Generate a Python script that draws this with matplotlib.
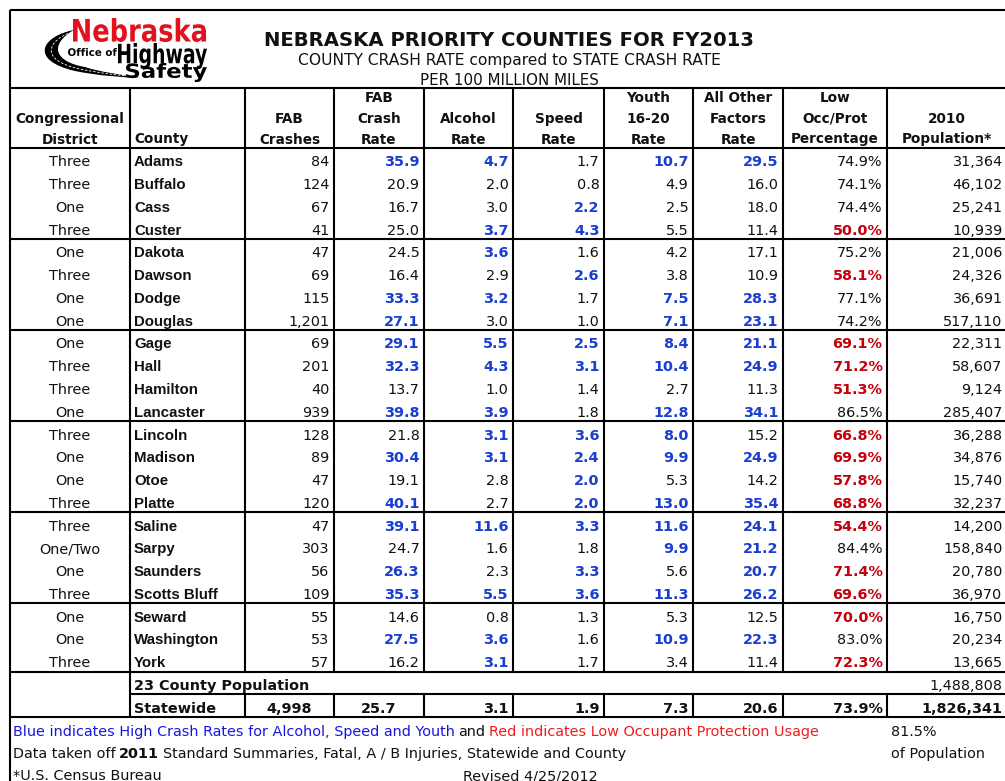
import matplotlib
matplotlib.use('Agg')
import matplotlib.pyplot as plt
from matplotlib.path import Path
from matplotlib.patches import PathPatch
from matplotlib.textpath import TextPath
from matplotlib.font_manager import FontProperties
from matplotlib.transforms import Affine2D

# ---- data ----
districts = ['Three', 'Three', 'One', 'Three', 'One', 'Three', 'One', 'One',
             'One', 'Three', 'Three', 'One', 'Three', 'One', 'One', 'Three',
             'Three', 'One/Two', 'One', 'Three', 'One', 'One', 'Three']
counties = ['Adams', 'Buffalo', 'Cass', 'Custer', 'Dakota', 'Dawson', 'Dodge', 'Douglas',
            'Gage', 'Hall', 'Hamilton', 'Lancaster', 'Lincoln', 'Madison', 'Otoe', 'Platte',
            'Saline', 'Sarpy', 'Saunders', 'Scotts Bluff', 'Seward', 'Washington', 'York']
fab_crashes = [84, 124, 67, 41, 47, 69, 115, 1201, 69, 201, 40, 939,
               128, 89, 47, 120, 47, 303, 56, 109, 55, 53, 57]
fab_rate = [35.9, 20.9, 16.7, 25.0, 24.5, 16.4, 33.3, 27.1, 29.1, 32.3, 13.7, 39.8,
            21.8, 30.4, 19.1, 40.1, 39.1, 24.7, 26.3, 35.3, 14.6, 27.5, 16.2]
alcohol_rate = [4.7, 2.0, 3.0, 3.7, 3.6, 2.9, 3.2, 3.0, 5.5, 4.3, 1.0, 3.9,
                3.1, 3.1, 2.8, 2.7, 11.6, 1.6, 2.3, 5.5, 0.8, 3.6, 3.1]
speed_rate = [1.7, 0.8, 2.2, 4.3, 1.6, 2.6, 1.7, 1.0, 2.5, 3.1, 1.4, 1.8,
              3.6, 2.4, 2.0, 2.0, 3.3, 1.8, 3.3, 3.6, 1.3, 1.6, 1.7]
youth_rate = [10.7, 4.9, 2.5, 5.5, 4.2, 3.8, 7.5, 7.1, 8.4, 10.4, 2.7, 12.8,
              8.0, 9.9, 5.3, 13.0, 11.6, 9.9, 5.6, 11.3, 5.3, 10.9, 3.4]
other_rate = [29.5, 16.0, 18.0, 11.4, 17.1, 10.9, 28.3, 23.1, 21.1, 24.9, 11.3, 34.1,
              15.2, 24.9, 14.2, 35.4, 24.1, 21.2, 20.7, 26.2, 12.5, 22.3, 11.4]
low_occ_pct = [74.9, 74.1, 74.4, 50.0, 75.2, 58.1, 77.1, 74.2, 69.1, 71.2, 51.3, 86.5,
               66.8, 69.9, 57.8, 68.8, 54.4, 84.4, 71.4, 69.6, 70.0, 83.0, 72.3]
population = [31364, 46102, 25241, 10939, 21006, 24326, 36691, 517110, 22311, 58607, 9124, 285407,
              36288, 34876, 15740, 32237, 14200, 158840, 20780, 36970, 16750, 20234, 13665]

# highlighted cells (blue = high crash rate, red = low occupant protection)
fab_rate_blue = ['Adams', 'Dodge', 'Douglas', 'Gage', 'Hall', 'Lancaster', 'Madison', 'Platte',
                 'Saline', 'Saunders', 'Scotts Bluff', 'Washington']
alcohol_blue = ['Adams', 'Custer', 'Dakota', 'Dodge', 'Gage', 'Hall', 'Lancaster', 'Lincoln',
                'Madison', 'Saline', 'Scotts Bluff', 'Washington', 'York']
speed_blue = ['Cass', 'Custer', 'Dawson', 'Gage', 'Hall', 'Lincoln', 'Madison', 'Otoe',
              'Platte', 'Saline', 'Saunders', 'Scotts Bluff']
youth_blue = ['Adams', 'Dodge', 'Douglas', 'Gage', 'Hall', 'Lancaster', 'Lincoln', 'Madison',
              'Platte', 'Saline', 'Sarpy', 'Scotts Bluff', 'Washington']
other_blue = ['Adams', 'Dodge', 'Douglas', 'Gage', 'Hall', 'Lancaster', 'Madison', 'Platte',
              'Saline', 'Sarpy', 'Saunders', 'Scotts Bluff', 'Washington']
low_occ_red = ['Custer', 'Dawson', 'Gage', 'Hall', 'Hamilton', 'Lincoln', 'Madison', 'Otoe',
               'Platte', 'Saline', 'Saunders', 'Scotts Bluff', 'Seward', 'York']

county_total_pop = 1488808
statewide = {'crashes': 4998, 'fab': 25.7, 'alcohol': 3.1, 'speed': 1.9,
             'youth': 7.3, 'other': 20.6, 'pct': 73.9, 'pop': 1826341}
share_of_pop = '81.5%'

headers = [['', 'Congressional', 'District'], ['', '', 'County'], ['', 'FAB', 'Crashes'],
           ['FAB', 'Crash', 'Rate'], ['', 'Alcohol', 'Rate'], ['', 'Speed', 'Rate'],
           ['Youth', '16-20', 'Rate'], ['All Other', 'Factors', 'Rate'],
           ['Low', 'Occ/Prot', 'Percentage'], ['', '2010', 'Population*']]

# ---- layout ----
BLUE = '#1a3fd0'
RED = '#c4000c'
INK = '#111111'
LW = 1.5
col_edges = [10, 130, 245, 334, 424, 513, 604, 693, 783, 887, 1007]
header_top, header_bot = 88, 148
row_h = 22.77
group_size = 4
data_fs = 10.4

fig = plt.figure(figsize=(10.05, 7.81), dpi=100)
ax = fig.add_axes([0, 0, 1, 1])
ax.set_xlim(0, 1005)
ax.set_ylim(781, 0)
ax.axis('off')


def draw_logo_word(s, x0, x1, top, bottom, color):
    tp = TextPath((0, 0), s, prop=FontProperties(family='DejaVu Sans', weight='bold'), size=20)
    ext = tp.get_extents()
    sx = (x1 - x0) / ext.width
    sy = (bottom - top) / ext.height
    tr = Affine2D().translate(-ext.x0, -ext.y1).scale(sx, -sy).translate(x0, top)
    ax.add_patch(PathPatch(tp, transform=tr + ax.transData, color=color, lw=0))


# logo swoosh
verts = [(74, 30), (42, 36), (28, 60), (75, 71), (100, 76), (120, 77), (140, 78),
         (118, 74), (100, 72), (85, 67), (55, 62), (48, 45), (74, 30)]
codes = [Path.MOVETO] + [Path.CURVE4] * 12
ax.add_patch(PathPatch(Path(verts, codes), color='black', lw=0))
mid = Path([(72, 32), (48, 40), (38, 60), (80, 69), (100, 73), (115, 75), (130, 76)],
           [Path.MOVETO] + [Path.CURVE4] * 6)
ax.add_patch(PathPatch(mid, fill=False, edgecolor='white', lw=0.6, ls=(0, (3, 2))))
draw_logo_word('Nebraska', 73, 206, 18, 42, '#e3101e')
draw_logo_word('Office of', 68, 117, 48, 56, 'black')
draw_logo_word('Highway', 118, 207, 43, 69, 'black')
draw_logo_word('Safety', 126, 207, 63, 82, 'black')

# titles
ax.text(509, 45.5, 'NEBRASKA PRIORITY COUNTIES FOR FY2013', ha='center', va='baseline',
        fontsize=14.1, fontweight='bold', color=INK)
ax.text(509, 65, 'COUNTY CRASH RATE compared to STATE CRASH RATE', ha='center',
        va='baseline', fontsize=11.2, color=INK)
ax.text(509, 85, 'PER 100 MILLION MILES', ha='center', va='baseline', fontsize=10.9, color=INK)

# header
header_base = [102, 123, 143.5]
for c, lines in enumerate(headers):
    for k, s in enumerate(lines):
        if not s:
            continue
        if c == 1:
            ax.text(col_edges[1] + 4, header_base[k], s, ha='left', va='baseline',
                    fontsize=9.8, fontweight='bold', color=INK)
        else:
            ax.text((col_edges[c] + col_edges[c + 1]) / 2, header_base[k], s, ha='center',
                    va='baseline', fontsize=9.8, fontweight='bold', color=INK)


def cell(col, y, s, color=INK, bold=False, ha='right'):
    if ha == 'right':
        x = col_edges[col + 1] - 4.5
    elif ha == 'center':
        x = (col_edges[col] + col_edges[col + 1]) / 2
    else:
        x = col_edges[col] + 4
    ax.text(x, y, s, ha=ha, va='baseline', fontsize=data_fs, color=color,
            fontweight='bold' if bold else 'normal')


rate_cols = [(3, fab_rate, fab_rate_blue), (4, alcohol_rate, alcohol_blue),
             (5, speed_rate, speed_blue), (6, youth_rate, youth_blue),
             (7, other_rate, other_blue)]

n = len(counties)
for i, name in enumerate(counties):
    y = header_bot + i * row_h + 18.3
    ax.text(70, y, districts[i], ha='center', va='baseline', fontsize=data_fs, color=INK)
    ax.text(col_edges[1] + 4, y, name, ha='left', va='baseline', fontsize=10.8,
            fontweight='bold', family='Liberation Sans', color=INK)
    cell(2, y, f'{fab_crashes[i]:,}')
    for col, vals, blues in rate_cols:
        hi = name in blues
        cell(col, y, f'{vals[i]:.1f}', BLUE if hi else INK, hi)
    red = name in low_occ_red
    cell(8, y, f'{low_occ_pct[i]:.1f}%', RED if red else INK, red)
    cell(9, y, f'{population[i]:,}')

# 23 county + statewide rows
y_tot = header_bot + n * row_h + 18.3
ax.text(col_edges[1] + 4, y_tot, '23 County Population', ha='left', va='baseline',
        fontsize=data_fs, fontweight='bold', color=INK)
cell(9, y_tot, f'{county_total_pop:,}')
y_st = header_bot + (n + 1) * row_h + 18.3
ax.text(col_edges[1] + 4, y_st, 'Statewide', ha='left', va='baseline',
        fontsize=data_fs, fontweight='bold', color=INK)
cell(2, y_st, f"{statewide['crashes']:,}", bold=True, ha='center')
cell(3, y_st, f"{statewide['fab']:.1f}", bold=True, ha='center')
for col, key in [(4, 'alcohol'), (5, 'speed'), (6, 'youth'), (7, 'other')]:
    cell(col, y_st, f'{statewide[key]:.1f}', bold=True)
cell(8, y_st, f"{statewide['pct']:.1f}%", bold=True)
cell(9, y_st, f"{statewide['pop']:,}", bold=True)

# grid lines
body_bot = header_bot + n * row_h
tot_mid = body_bot + row_h
st_bot = body_bot + 2 * row_h
ax.hlines([10, header_top, header_bot, body_bot, st_bot], 10, 1005, color='black', lw=LW)
ax.hlines(tot_mid, col_edges[1], 1005, color='black', lw=LW)
for g in range(group_size, n, group_size):
    ax.hlines(header_bot + g * row_h, 10, 1005, color='black', lw=LW)
ax.vlines(10, 10, 781, color='black', lw=LW)
ax.vlines(col_edges[1], header_top, st_bot, color='black', lw=LW)
ax.vlines(col_edges[2:-1], header_top, body_bot, color='black', lw=LW)
ax.vlines(col_edges[2:-1], tot_mid, st_bot, color='black', lw=LW)

# footer
renderer = fig.canvas.get_renderer()
foot_fs = 10.4


def runs(x, y, parts):
    for s, color, weight in parts:
        t = ax.text(x, y, s, ha='left', va='baseline', fontsize=foot_fs, color=color,
                    fontweight=weight)
        x = t.get_window_extent(renderer=renderer).x1 + foot_fs * 0.35


runs(13, 736, [('Blue indicates High Crash Rates for Alcohol, Speed and Youth', '#1616e0', 'normal'),
               ('and', INK, 'normal'),
               ('Red indicates Low Occupant Protection Usage', '#f01c1c', 'normal')])
runs(13, 758, [('Data taken off', INK, 'normal'), ('2011', INK, 'bold'),
               ('Standard Summaries, Fatal, A / B Injuries, Statewide and County', INK, 'normal')])
runs(13, 780, [('*U.S. Census Bureau', INK, 'normal')])
runs(463, 780, [('Revised 4/25/2012', INK, 'normal')])
runs(891, 736, [(share_of_pop, INK, 'normal')])
runs(891, 758, [('of Population', INK, 'normal')])

fig.savefig('out.png', dpi=100)
